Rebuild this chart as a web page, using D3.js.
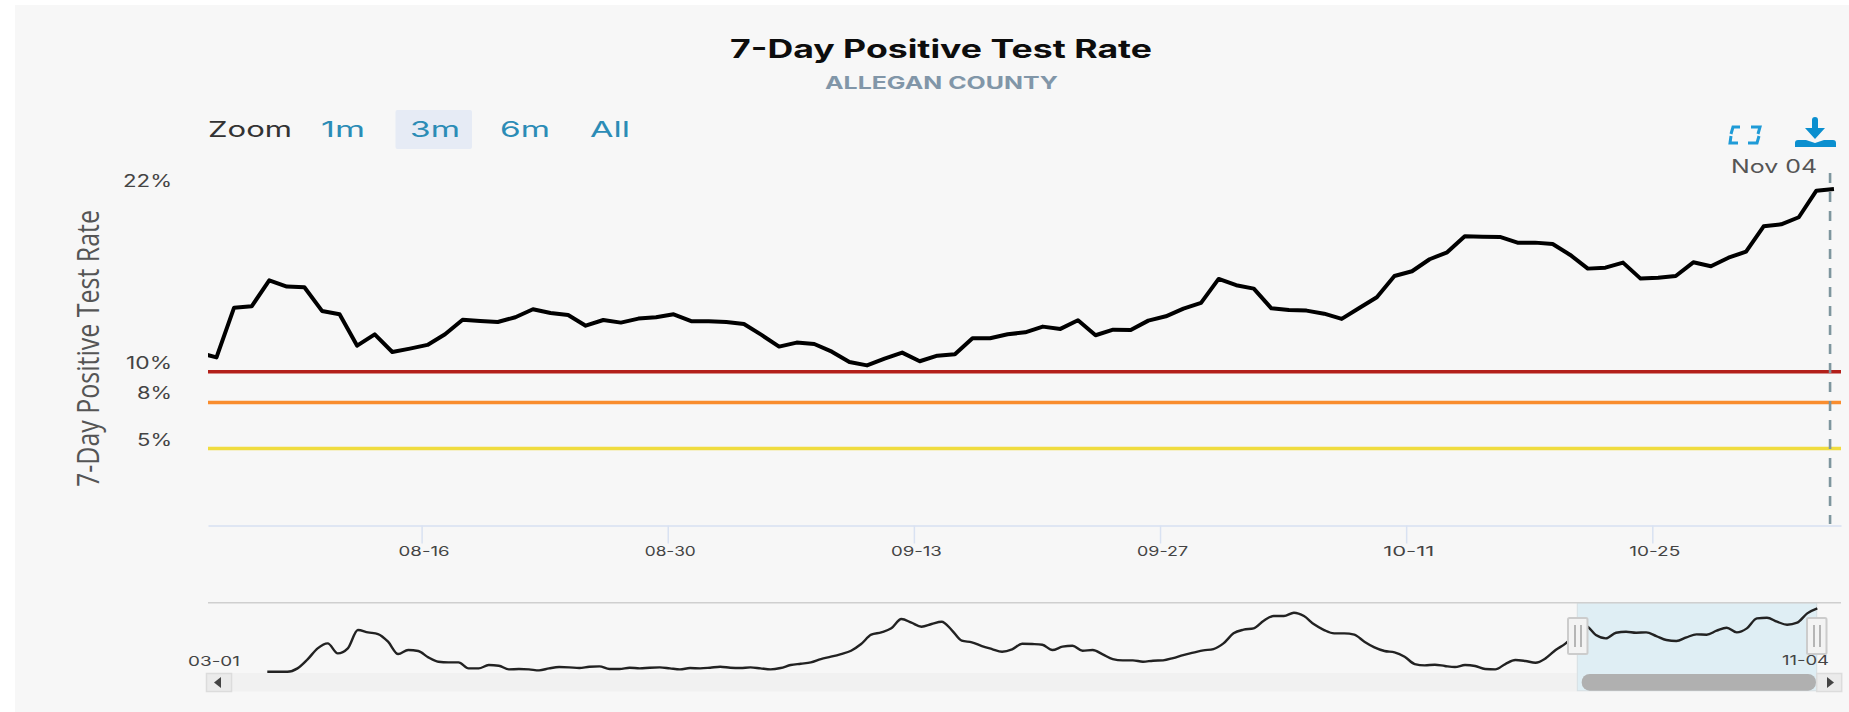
<!DOCTYPE html>
<html><head><meta charset="utf-8">
<style>html,body{margin:0;padding:0;background:#fff;overflow:hidden}svg{display:block}text{font-family:Inter,"Open Sans",sans-serif}</style>
<script src="https://cdn.jsdelivr.net/npm/d3@7"></script>
</head><body>
<script>
const chartTitle="7-Day Positive Test Rate";
const chartSubtitle="ALLEGAN COUNTY";
const zoomLabel="Zoom";
const zoomOptions=["1m","3m","6m","All"];
const activeZoom="3m";
const crosshairLabel="Nov 04";
const firstPoint="2021-08-03T08:00:00Z";
const rateValues=[11.24,10.93,14.16,14.25,15.94,15.53,15.49,13.95,13.73,11.69,12.43,11.28,11.50,11.74,12.43,13.38,13.30,13.23,13.54,14.06,13.82,13.69,12.99,13.36,13.19,13.45,13.54,13.73,13.28,13.28,13.23,13.10,12.39,11.63,11.89,11.80,11.30,10.63,10.41,10.85,11.24,10.68,11.04,11.13,12.17,12.17,12.43,12.56,12.93,12.78,13.34,12.37,12.73,12.71,13.32,13.60,14.10,14.47,16.03,15.62,15.40,14.12,14.01,13.97,13.77,13.43,14.14,14.84,16.22,16.53,17.31,17.76,18.80,18.78,18.76,18.39,18.39,18.30,17.59,16.70,16.76,17.09,16.05,16.11,16.22,17.11,16.85,17.41,17.80,19.45,19.58,20.04,21.77,21.88];
const thresholds=[10,8,5];
const thresholdColors=["#b3201a","#f98d2e","#f0dc3f"];
const yTickValues=[22,10,8,5];
const xTickDates=["2021-08-16","2021-08-30","2021-09-13","2021-09-27","2021-10-11","2021-10-25"];
const navValues=[0,0,0,1.12,4.15,7.86,9.54,6.17,7.86,14.03,13.24,12.68,10.10,5.95,7.30,6.96,4.83,3.37,3.14,3.14,1.12,1.12,2.24,2.02,0.79,0.90,0.79,0.45,1.12,1.57,1.46,1.23,1.68,1.80,0.90,0.90,1.35,1.12,1.35,1.46,1.12,0.79,1.23,1.12,1.35,1.68,1.35,1.23,1.46,1.12,0.79,1.23,2.24,2.69,3.14,4.26,5.05,5.95,7.07,9.32,12.46,13.24,14.59,17.73,16.50,15.15,16.05,16.84,14.03,10.44,9.88,8.64,7.63,6.73,7.52,9.43,9.32,9.09,7.30,8.42,8.75,7.07,7.30,5.84,4.26,3.82,3.82,3.37,3.70,3.82,4.60,5.61,6.40,7.18,7.63,9.54,12.91,14.15,14.59,17.17,18.74,18.74,19.87,18.74,15.94,14.03,12.91,12.91,12.46,10.10,8.19,6.96,6.51,5.05,2.58,2.13,2.36,1.91,1.57,2.24,1.91,0.90,0.79,2.58,3.93,3.59,3.03,4.49,7.30,9.54,12.91,15.38,12.35,11.22,13.13,13.47,13.13,13.24,12.01,10.66,10.33,11.56,12.57,12.46,13.80,14.81,13.24,14.59,17.96,18.18,16.84,15.82,16.50,19.64,21.32];
const navStartLabel="03-01";
const navEndLabel="11-04";

const W=1849,H=712;
const plot={l:208,r:1841,top:187.1,bottom:525.5};
const nav={l:267.3,r:1817.3,top:602.7,base:671.7,sel0:1577.3,sel1:1816.7};
const svg=d3.select("body").append("svg").attr("width",W).attr("height",H);
svg.append("rect").attr("x",15).attr("y",5).attr("width",W-15).attr("height",H-5).attr("fill","#f7f7f7");

function label(t,x,y,o={}){
  const e=svg.append("text").attr("x",x).attr("y",y).text(t)
    .attr("font-size",o.size||14).attr("fill",o.fill||"#444").attr("font-weight",o.weight||400)
    .attr("text-anchor",o.anchor||"start");
  if(o.family)e.style("font-family",o.family);
  if(o.width)e.attr("textLength",o.width).attr("lengthAdjust","spacingAndGlyphs");
  return e;
}

// Scales
const x=d3.scaleUtc().domain([new Date("2021-08-03T20:24:00Z"),new Date("2021-11-04T17:36:00Z")]).range([plot.l,plot.r]);
const y=d3.scaleLinear().domain([0,22]).range([plot.bottom,plot.top]);
const t0=new Date(firstPoint);
const rateDates=rateValues.map((_,i)=>d3.utcDay.offset(t0,i));
const navX=d3.scaleLinear().domain([0,navValues.length-1]).range([nav.l,nav.r]);
const navY=d3.scaleLinear().domain([0,22]).range([nav.base,nav.base-22*2.97]);

// Title
label(chartTitle,941,58,{anchor:"middle",size:25,weight:700,fill:"#0d0d0d",width:422});
label(chartSubtitle,941.5,89,{anchor:"middle",size:17,weight:700,fill:"#8196a8",width:233});

// Zoom buttons
label(zoomLabel,208,137,{size:22,fill:"#333",width:84});
const zoomX={"1m":[321,44],"3m":[410,50],"6m":[500,50],"All":[590,40]};
svg.append("rect").attr("x",395.5).attr("y",110).attr("width",76.5).attr("height",39).attr("rx",2).attr("fill","#e6ebf5");
zoomOptions.forEach(o=>label(o,zoomX[o][0],137,{size:22,fill:"#2b8cb6",width:zoomX[o][1]}));

// Icons
const fs=svg.append("g").attr("fill","none").attr("stroke","#1f9bd7").attr("stroke-width",3);
fs.append("path").attr("d","M1731 134L1733 127H1740");
fs.append("path").attr("d","M1751 127H1760L1758 134");
fs.append("path").attr("d","M1731 136L1730 143H1738");
fs.append("path").attr("d","M1748 143H1757L1759 136");
const dl=svg.append("g").attr("fill","#0b8fcf");
dl.append("path").attr("d","M1812 120a3 3 0 0 1 6 0V128H1825L1815 139L1805 128H1812Z");
dl.append("path").attr("d","M1795 147V143a3 3 0 0 1 3-3H1806L1815 143L1824 140H1833a3 3 0 0 1 3 3V147Z");

// Y axis title and labels
svg.append("text").attr("transform","translate(99.3,487) rotate(-90)").text(chartTitle)
  .attr("font-size",31).attr("fill","#555").attr("textLength",277).attr("lengthAdjust","spacingAndGlyphs")
  .style("font-family","'Open Sans',sans-serif");
const yLabelWidths={22:49,10:46,8:35,5:35};
yTickValues.forEach(v=>label(v+"%",172,y(v)-(v===22?0:3),{anchor:"end",size:17,fill:"#444",width:yLabelWidths[v]}));

// Threshold lines
svg.selectAll("line.th").data(thresholds).join("line").attr("class","th")
  .attr("x1",plot.l).attr("x2",plot.r).attr("y1",d=>y(d)).attr("y2",d=>y(d))
  .attr("stroke",(d,i)=>thresholdColors[i]).attr("stroke-width",3.5);

// X axis
const axis=d3.axisBottom(x).tickValues(xTickDates.map(d=>new Date(d+"T00:00:00Z"))).tickFormat(d3.utcFormat("%m-%d")).tickSize(18).tickSizeOuter(0).tickPadding(3);
const gx=svg.append("g").attr("transform",`translate(0,${plot.bottom})`).call(axis);
gx.select(".domain").attr("stroke","#dfe6f3").attr("stroke-width",2);
gx.selectAll(".tick line").attr("stroke","#d9e2f2").attr("stroke-width",1.5);
gx.selectAll(".tick text").attr("font-size",13).attr("fill","#444").attr("textLength",51).attr("lengthAdjust","spacingAndGlyphs").attr("dx",2).style("font-family","Inter,sans-serif");

// Main line
svg.append("clipPath").attr("id","pc").append("rect").attr("x",plot.l).attr("y",100).attr("width",plot.r-plot.l).attr("height",440);
svg.append("path").datum(rateValues).attr("clip-path","url(#pc)").attr("fill","none").attr("stroke","#000").attr("stroke-width",4).attr("stroke-linejoin","round")
  .attr("d",d3.line().x((d,i)=>x(rateDates[i])).y(d=>y(d)));

// Crosshair
const chX=x(new Date("2021-11-04T02:40:00Z"));
svg.append("line").attr("x1",chX).attr("x2",chX).attr("y1",173).attr("y2",524).attr("stroke","#7e969e").attr("stroke-width",2.6).attr("stroke-dasharray","10,9");
label(crosshairLabel,1731,173,{size:18,fill:"#555",width:86});

// Navigator
svg.append("rect").attr("x",plot.l).attr("y",673).attr("width",plot.r-plot.l).attr("height",18.5).attr("fill","#f1f1f1");
svg.append("rect").attr("x",nav.sel0).attr("y",nav.top).attr("width",nav.sel1-nav.sel0).attr("height",88).attr("fill","#dfeef4").attr("stroke","#d6dfe3");
svg.append("line").attr("x1",plot.l).attr("x2",plot.r).attr("y1",nav.top).attr("y2",nav.top).attr("stroke","#cfcfcf").attr("stroke-width",1.5);
svg.append("rect").attr("x",1581.7).attr("y",674).attr("width",234.3).attr("height",16.7).attr("rx",8).attr("fill","#b0b0b0");
svg.append("path").datum(navValues).attr("fill","none").attr("stroke","#222").attr("stroke-width",2.4).attr("stroke-linejoin","round")
  .attr("d",d3.line().curve(d3.curveMonotoneX).x((d,i)=>navX(i)).y(d=>navY(d)));
label(navStartLabel,188,666,{size:13,fill:"#444",width:52});
label(navEndLabel,1782,665,{size:13,fill:"#444",width:47});

// Scroll buttons
[[206.5,25,"M221 677L214 682.500L221 688Z"],[1816.7,25,"M1827 677L1834 682.500L1827 688Z"]].forEach(b=>{
  svg.append("rect").attr("x",b[0]).attr("y",673.500).attr("width",b[1]).attr("height",18).attr("fill","#ebebeb").attr("stroke","#dcdcdc").attr("stroke-width",1.5);
  svg.append("path").attr("d",b[2]).attr("fill","#444");
});

// Handles
[1568,1807].forEach(hx=>{
  svg.append("rect").attr("x",hx).attr("y",618).attr("width",19.5).attr("height",36).attr("rx",1.5).attr("fill","#f3f3f3").attr("stroke","#cccccc").attr("stroke-width",2);
  [7,13].forEach(d=>svg.append("line").attr("x1",hx+d).attr("x2",hx+d).attr("y1",625).attr("y2",647).attr("stroke","#b5b5b5").attr("stroke-width",2));
});
</script>
</body></html>
